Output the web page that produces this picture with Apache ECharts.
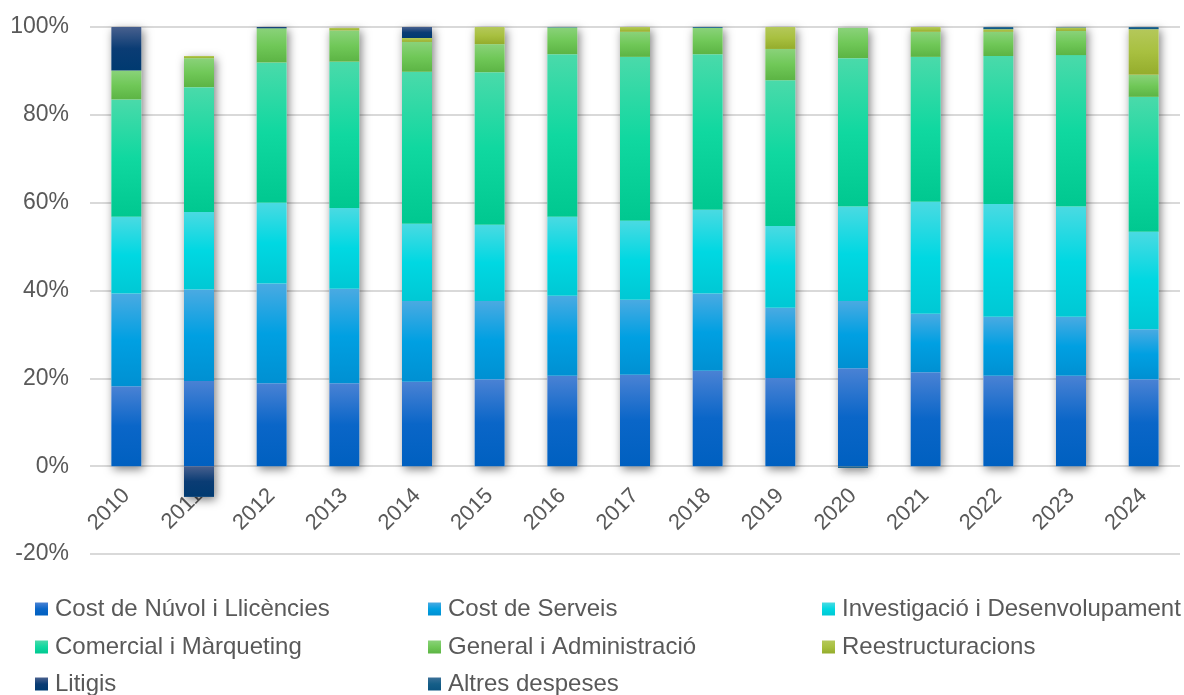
<!DOCTYPE html>
<html>
<head>
<meta charset="utf-8">
<script src="https://cdn.jsdelivr.net/npm/echarts@6/dist/echarts.min.js"></script>
<style>
html,body{margin:0;padding:0;background:#fff;}
#chart{width:1184px;height:695px;}
</style>
</head>
<body>
<div id="chart"></div>
<script>
const categories = ['2010','2011','2012','2013','2014','2015','2016','2017','2018','2019','2020','2021','2022','2023','2024'];
const seriesNames = ['Cost de Núvol i Llicències','Cost de Serveis','Investigació i Desenvolupament','Comercial i Màrqueting','General i Administració','Reestructuracions','Litigis','Altres despeses'];
const cloud = [18.2, 19.4, 18.9, 18.9, 19.2, 19.8, 20.6, 20.8, 21.7, 20.1, 22.3, 21.4, 20.6, 20.6, 19.8];
const services = [21.1, 20.8, 22.7, 21.5, 18.4, 17.8, 18.2, 17.1, 17.6, 16.0, 15.3, 13.3, 13.4, 13.4, 11.4];
const rnd = [17.5, 17.7, 18.4, 18.4, 17.6, 17.4, 18.0, 18.0, 19.1, 18.6, 21.5, 25.5, 25.7, 25.1, 22.2];
const commercial = [26.7, 28.4, 31.9, 33.3, 34.6, 34.7, 37.0, 37.3, 35.4, 33.2, 33.8, 33.0, 33.7, 34.5, 30.7];
const general = [6.6, 6.6, 7.8, 7.1, 6.8, 6.4, 6.1, 5.7, 6.0, 7.1, 6.9, 5.7, 5.5, 5.5, 5.0];
const restructuring = [0, 0.5, 0, 0.6, 0.9, 3.9, 0, 1.1, 0, 5.0, 0, 1.1, 0.6, 0.8, 10.4];
const litigation = [9.9, -7.0, 0.3, 0, 2.5, 0, 0, 0, 0, 0, 0, 0, 0, 0, 0];
const other = [0, 0, 0, 0, 0, 0, 0.3, 0, 0.3, 0, -0.4, 0, 0.5, 0.2, 0.5];
const yTicks = [-20, 0, 20, 40, 60, 80, 100];

const values = [cloud, services, rnd, commercial, general, restructuring, litigation, other];
const palette = [
  ['#4a82d4','#0a66c8','#0060c0'],
  ['#4aaae2','#00a0e2','#0090d2'],
  ['#4adae2','#00d8e2','#00c8d4'],
  ['#4adaaa','#10d8a0','#00c890'],
  ['#8ad27a','#70c858','#5cb444'],
  ['#b4c85a','#a8c040','#94ac2c'],
  ['#48608e','#0a3c74','#003a70'],
  ['#3a7098','#155e88','#0c5480']
];
function grad(c){
  return new echarts.graphic.LinearGradient(0,0,0,1,[
    {offset:0,color:c[0]},{offset:0.5,color:c[1]},{offset:1,color:c[2]}
  ]);
}
const posTotal = categories.map((_,i)=>values.reduce((s,a)=>s+(a[i]>0?a[i]:0),0));
const negTotal = categories.map((_,i)=>values.reduce((s,a)=>s+(a[i]<0?a[i]:0),0));

const font = "'Liberation Sans', Arial, sans-serif";
const txt = '#595959';
const shadowStyle = {color:'#ffffff', shadowBlur:10, shadowColor:'rgba(0,0,0,0.5)', shadowOffsetX:2, shadowOffsetY:3};

const series = [
  {name:'_shadowPos', type:'bar', stack:'shadow', data:posTotal, barWidth:30, barGap:'-100%', silent:true, itemStyle:shadowStyle},
  {name:'_shadowNeg', type:'bar', stack:'shadow', data:negTotal, barWidth:30, barGap:'-100%', silent:true, itemStyle:shadowStyle}
];
seriesNames.forEach((n,k)=>{
  series.push({name:n, type:'bar', stack:'total', data:values[k], barWidth:30, barGap:'-100%',
    itemStyle:{color:grad(palette[k])}});
});

// legend layout: [series index, left, row centre y]
const legendPos = [[0,35,609],[1,428,609],[2,822,609],[3,35,647],[4,428,647],[5,822,647],[6,35,684],[7,428,684]];
const legends = legendPos.map(p=>({
  left:p[1], top:p[2]-12, padding:0, orient:'horizontal', data:[seriesNames[p[0]]], icon:'rect',
  itemWidth:13, itemHeight:13, selectedMode:false,
  textStyle:{color:txt, fontSize:24, fontFamily:font, lineHeight:24, padding:[0,0,0,2]}
}));

const chart = echarts.init(document.getElementById('chart'), null, {renderer:'canvas'});
chart.setOption({
  animation:false,
  backgroundColor:'#ffffff',
  grid:{left:90, right:4, top:27, bottom:141},
  legend:legends,
  xAxis:{type:'category', data:categories, offset:-87.8,
    axisLine:{show:false, onZero:false},
    axisTick:{show:false},
    axisLabel:{rotate:45, color:txt, fontSize:22, fontFamily:font, margin:26, interval:0}},
  yAxis:{type:'value', min:yTicks[0], max:yTicks[yTicks.length-1], interval:20,
    axisLine:{show:false}, axisTick:{show:false},
    splitLine:{lineStyle:{color:'#d9d9d9', width:2}},
    axisLabel:{formatter:'{value}%', color:txt, fontSize:23, fontFamily:font, margin:21}},
  series:series
});
</script>
</body>
</html>
